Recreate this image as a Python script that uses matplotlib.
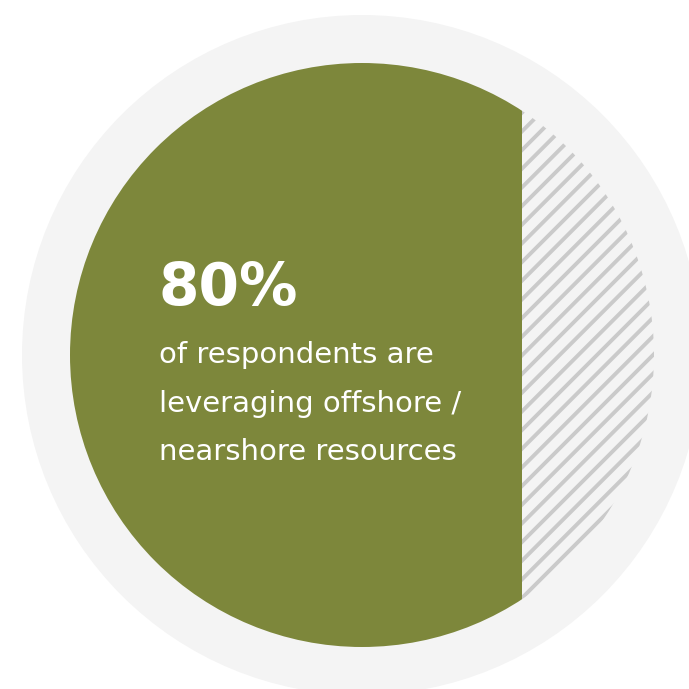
import matplotlib
matplotlib.use("Agg")
import matplotlib.pyplot as plt
from matplotlib.patches import Circle

# data
share = 80            # % leveraging offshore / nearshore
headline = "80%"
caption = ["of respondents are", "leveraging offshore /", "nearshore resources"]

green = "#7d873b"
ring = "#f4f4f4"
hatch_grey = "#cacaca"

DPI = 112
plt.rcParams["hatch.linewidth"] = 2.5

fig = plt.figure(figsize=(689 / DPI, 689 / DPI), dpi=DPI)
ax = fig.add_axes([0, 0, 1, 1])
ax.set_aspect("equal")
ax.axis("off")

# scale: bar from 0 to share spans the circle's left edge to the split
s = 5.65                      # px per unit
R = 292 / s                   # inner radius in data units
cx = R
ax.set_xlim(-70 / s, (689 - 70) / s)
ax.set_ylim(-(689 - 355) / s, 355 / s)

outer = Circle((cx, 0), 340 / s, color=ring, lw=0, zorder=0)
ax.add_patch(outer)
inner = Circle((cx, 0), R, facecolor=ring, lw=0, zorder=1)
ax.add_patch(inner)

bar = ax.barh(0, share, left=0, height=2 * R, color=green, lw=0, zorder=2)
rest = ax.barh(0, 2 * R, left=share, height=2 * R, facecolor=ring,
               edgecolor=hatch_grey, hatch="//", lw=0, zorder=2)
for p in list(bar) + list(rest):
    p.set_clip_path(inner)

pt = 100 / DPI
fig.text(159 / 689, 1 - 305 / 689, headline, color="white", fontsize=42 * pt,
         fontweight="bold", family="DejaVu Sans", va="baseline")
for i, line in enumerate(caption):
    fig.text(159 / 689, 1 - (363 + 48.5 * i) / 689, line, color="white",
             fontsize=21 * pt, family="DejaVu Sans", va="baseline")

fig.savefig("out.png", dpi=DPI)
